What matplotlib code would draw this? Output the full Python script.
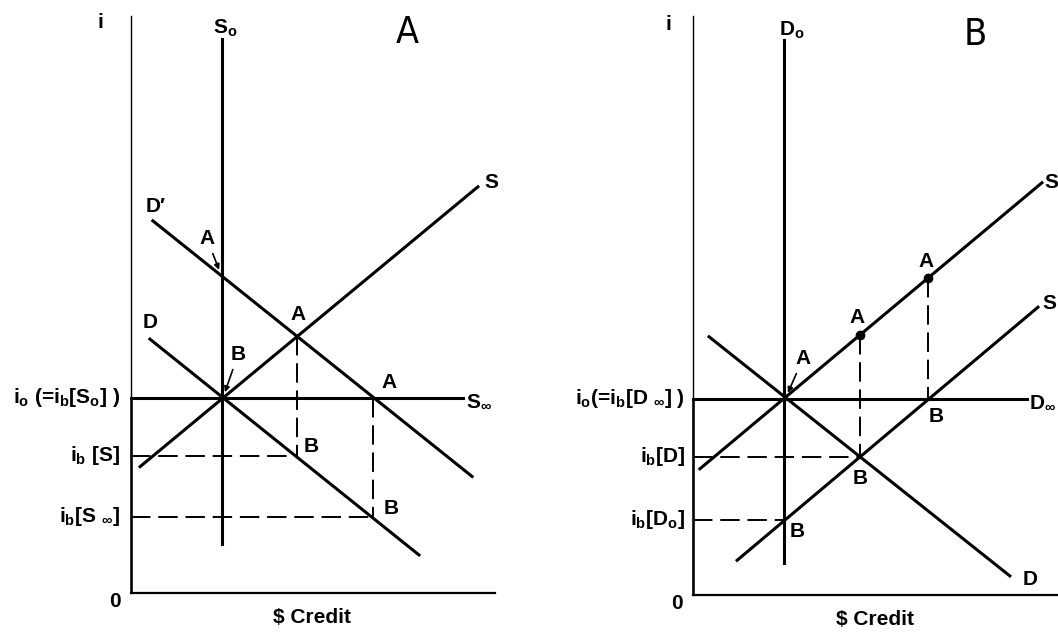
import matplotlib
matplotlib.use('Agg')
import matplotlib.pyplot as plt

plt.rcParams['font.family'] = ['Liberation Sans', 'DejaVu Sans']
plt.rcParams['font.weight'] = 'bold'
plt.rcParams['mathtext.fontset'] = 'custom'
plt.rcParams['mathtext.rm'] = 'Liberation Sans:bold'
plt.rcParams['mathtext.it'] = 'Liberation Sans:bold'
plt.rcParams['mathtext.bf'] = 'Liberation Sans:bold'

# ---- panel A data (credit on x, interest rate on y, both 0-100 scale)
A_S0_X = [25.0, 25.0]
A_S0_Y = [8.5, 96.0]
A_SINF_X = [0.0, 91.2]
A_SINF_Y = [33.8, 33.8]
A_S_X = [2.5, 95.3]
A_S_Y = [21.9, 70.4]
A_DPRIME_X = [6.0, 93.7]
A_DPRIME_Y = [64.5, 20.2]
A_D_X = [5.2, 79.1]
A_D_Y = [44.0, 6.6]
# dashed guides: (x1, y1, x2, y2)
A_DASHED = [
    (45.7, 44.6, 45.7, 23.8),
    (66.6, 33.8, 66.6, 13.2),
    (0.0, 23.8, 45.7, 23.8),
    (0.0, 13.2, 66.6, 13.2),
]
A_YTICKS = [33.8, 23.8, 13.2]
A_YLABELS = [r'i$_\mathrm{o}$ (=i$_\mathrm{b}$[S$_\mathrm{o}$] )',
             r'i$_\mathrm{b}$ [S]',
             r'i$_\mathrm{b}$[S $_\infty$]']

# ---- panel B data
B_D0_X = [24.9, 24.9]
B_D0_Y = [5.5, 95.9]
B_DINF_X = [0.0, 91.5]
B_DINF_Y = [33.9, 33.9]
B_S1_X = [1.9, 95.6]
B_S1_Y = [21.8, 71.2]
B_S2_X = [12.1, 94.5]
B_S2_Y = [6.0, 49.7]
B_D_X = [4.4, 86.8]
B_D_Y = [44.6, 3.3]
B_DOTS_X = [45.8, 64.4]
B_DOTS_Y = [44.9, 54.7]
B_DASHED = [
    (45.8, 44.9, 45.8, 23.9),
    (64.4, 54.7, 64.4, 33.9),
    (0.0, 23.9, 45.8, 23.9),
    (0.0, 13.0, 24.9, 13.0),
]
B_YTICKS = [33.9, 23.9, 13.0]
B_YLABELS = [r'i$_\mathrm{o}$(=i$_\mathrm{b}$[D $_\infty$] )',
             r'i$_\mathrm{b}$[D]',
             r'i$_\mathrm{b}$[D$_\mathrm{o}$]']

LW = 2.2
FS = 15

fig = plt.figure(figsize=(10.58, 6.33), dpi=100)
axA = fig.add_axes([131 / 1058, 40 / 633, 364 / 1058, 577 / 633])
axB = fig.add_axes([693 / 1058, 38 / 633, 365 / 1058, 579 / 633])

for ax, i0 in ((axA, A_YTICKS[0]), (axB, B_YTICKS[0])):
    ax.set_xlim(0, 100)
    ax.set_ylim(0, 100)
    ax.spines['top'].set_visible(False)
    ax.spines['right'].set_visible(False)
    ax.spines['left'].set_linewidth(1.0)
    ax.spines['bottom'].set_linewidth(1.6)
    ax.set_xticks([])
    ax.set_yticks([])
    # lower part of the rate axis is drawn heavier in the original
    ax.plot([0, 0], [0, i0], color='black', lw=1.8, clip_on=False, solid_capstyle='butt')
    ax.text(-4.5, -1.5, '0', ha='center', va='center', fontsize=FS)
    ax.text(49.8, -4.2, r'\$ Credit', ha='center', va='center', fontsize=FS)


def draw_dashed(ax, segs):
    for x1, y1, x2, y2 in segs:
        ax.plot([x1, x2], [y1, y2], color='black', lw=1.4, dashes=(10, 4), clip_on=False)


def ylabels(ax, ys, labels, xr):
    for y, lab in zip(ys, labels):
        ax.text(xr, y, lab, ha='right', va='center', fontsize=FS)


arrow_kw = dict(arrowstyle='-|>', color='black', lw=1.2, mutation_scale=8, shrinkA=2, shrinkB=0)
title_kw = dict(ha='center', va='center', fontsize=27, fontweight='normal',
                family='DejaVu Sans', fontstretch='condensed')

# ---- panel A
for xs, ys in ((A_S0_X, A_S0_Y), (A_SINF_X, A_SINF_Y), (A_S_X, A_S_Y),
               (A_DPRIME_X, A_DPRIME_Y), (A_D_X, A_D_Y)):
    axA.plot(xs, ys, color='black', lw=LW, clip_on=False)
draw_dashed(axA, A_DASHED)
ylabels(axA, A_YTICKS, A_YLABELS, -3.0)

axA.text(-8.5, 98.8, 'i', ha='center', va='center', fontsize=FS)
axA.text(26.0, 97.8, r'S$_\mathrm{o}$', ha='center', va='center', fontsize=FS)
axA.text(75.8, 97.0, 'A', **title_kw)
axA.text(99.0, 71.2, 'S', ha='center', va='center', fontsize=FS)
axA.text(95.5, 33.2, r'S$_\infty$', ha='center', va='center', fontsize=FS)
axA.text(6.8, 67.0, "D\u2032", ha='center', va='center', fontsize=FS)
axA.text(5.2, 46.8, 'D', ha='center', va='center', fontsize=FS)
axA.text(45.9, 48.2, 'A', ha='center', va='center', fontsize=FS)
axA.text(70.8, 36.4, 'A', ha='center', va='center', fontsize=FS)
axA.text(49.4, 25.4, 'B', ha='center', va='center', fontsize=FS)
axA.text(71.4, 14.6, 'B', ha='center', va='center', fontsize=FS)
axA.annotate('A', xy=(24.2, 56.0), xytext=(20.9, 61.4), ha='center', va='center',
             fontsize=FS, arrowprops=arrow_kw)
axA.annotate('B', xy=(25.8, 34.8), xytext=(29.4, 41.3), ha='center', va='center',
             fontsize=FS, arrowprops=arrow_kw)

# ---- panel B
for xs, ys in ((B_D0_X, B_D0_Y), (B_DINF_X, B_DINF_Y), (B_S1_X, B_S1_Y),
               (B_S2_X, B_S2_Y), (B_D_X, B_D_Y)):
    axB.plot(xs, ys, color='black', lw=LW, clip_on=False)
axB.plot(B_DOTS_X, B_DOTS_Y, 'o', color='black', ms=6, clip_on=False)
draw_dashed(axB, B_DASHED)
ylabels(axB, B_YTICKS, B_YLABELS, -2.2)

axB.text(-6.6, 98.6, 'i', ha='center', va='center', fontsize=FS)
axB.text(27.0, 97.6, r'D$_\mathrm{o}$', ha='center', va='center', fontsize=FS)
axB.text(77.3, 96.8, 'B', **title_kw)
axB.text(96.4, 71.2, 'S', ha='left', va='center', fontsize=FS)
axB.text(95.6, 50.3, 'S', ha='left', va='center', fontsize=FS)
axB.text(92.0, 33.4, r'D$_\mathrm{\infty}$', ha='left', va='center', fontsize=FS)
axB.text(92.3, 2.6, 'D', ha='center', va='center', fontsize=FS)
axB.text(44.9, 48.0, 'A', ha='center', va='center', fontsize=FS)
axB.text(63.8, 57.6, 'A', ha='center', va='center', fontsize=FS)
axB.text(66.6, 30.9, 'B', ha='center', va='center', fontsize=FS)
axB.text(45.8, 20.2, 'B', ha='center', va='center', fontsize=FS)
axB.text(28.5, 10.9, 'B', ha='center', va='center', fontsize=FS)
axB.annotate('A', xy=(26.0, 34.9), xytext=(30.1, 40.8), ha='center', va='center',
             fontsize=FS, arrowprops=arrow_kw)

fig.savefig('out.png', dpi=100, facecolor='white')
